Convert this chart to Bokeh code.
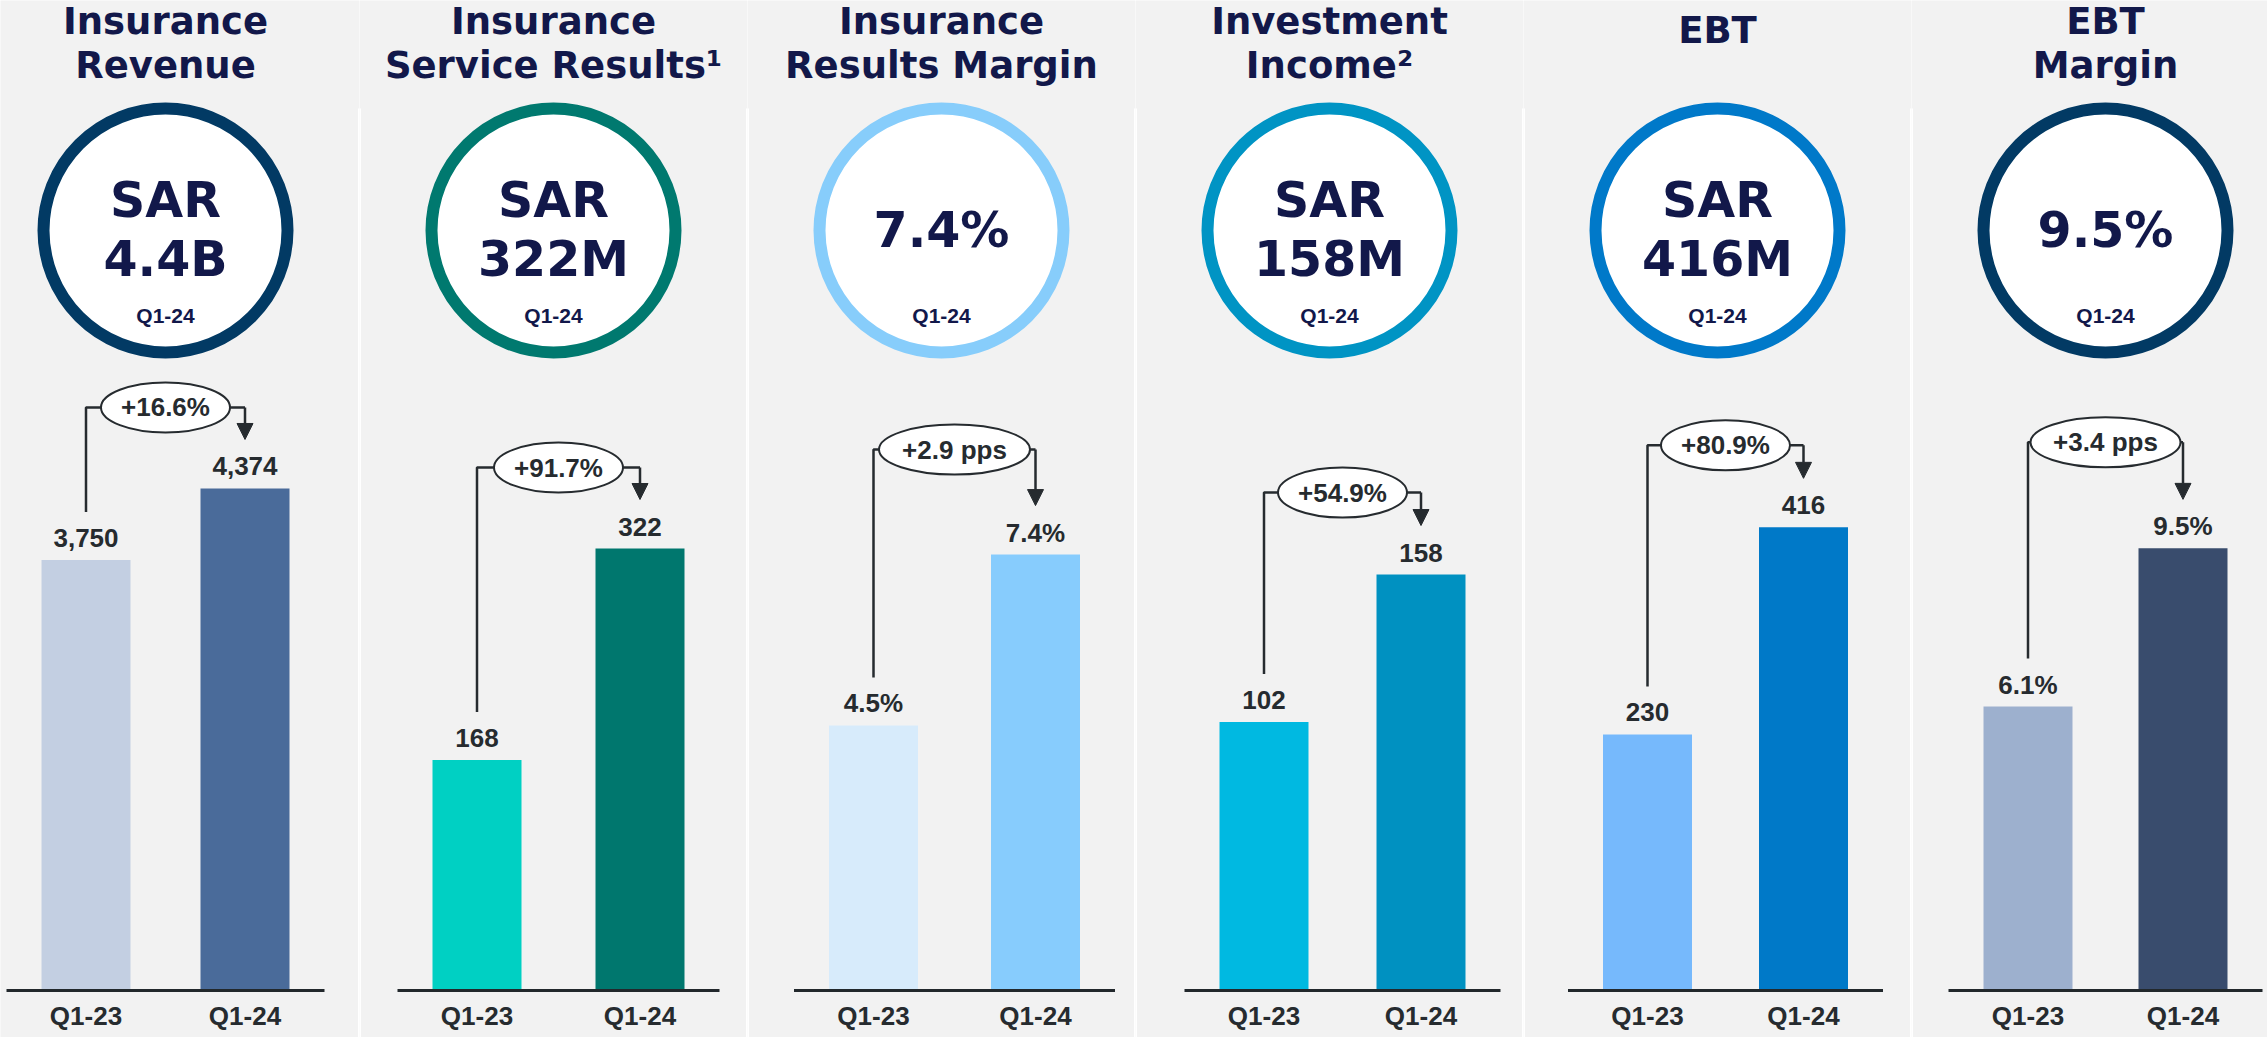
from bokeh.plotting import figure
from bokeh.layouts import row
from bokeh.models import Range1d, FixedTicker, Arrow, NormalHead, ColumnDataSource
from bokeh.core.properties import value
from bokeh.embed import file_html
from bokeh.resources import INLINE

# ---------------- data ----------------
categories = ["Q1-23", "Q1-24"]
titles = [["Insurance", "Revenue"],
          ["Insurance", "Service Results\u00b9"],
          ["Insurance", "Results Margin"],
          ["Investment", "Income\u00b2"],
          ["EBT"],
          ["EBT", "Margin"]]
headline = [["SAR", "4.4B"], ["SAR", "322M"], ["7.4%"], ["SAR", "158M"], ["SAR", "416M"], ["9.5%"]]
headline_period = "Q1-24"
q1_23 = [3750, 168, 4.5, 102, 230, 6.1]
q1_24 = [4374, 322, 7.4, 158, 416, 9.5]
is_pct = [False, False, True, False, False, True]
changes = ["+16.6%", "+91.7%", "+2.9 pps", "+54.9%", "+80.9%", "+3.4 pps"]

# ---------------- style / layout ----------------
ring_colors = ["#023a64", "#00796f", "#87cdfb", "#0094c4", "#0079c9", "#023a64"]
bar_colors_23 = ["#c3cfe2", "#00d0c3", "#d7ebfb", "#00b9e1", "#76b9fc", "#9db0ce"]
bar_colors_24 = ["#4a6b9a", "#00776e", "#87ccfd", "#0091c1", "#0079c8", "#394c6d"]
y_max = [8556, 715.4, 16.67, 373, 882, 21.1]      # value shown 8px below the top edge
bar_mid_off = [0, 5, 13, 13, 8, 0]                # px shift of the bar pair from panel centre
bar_gap = [159, 163, 162, 157, 156, 155]          # px between the two bar centres
bubble_rise = [81, 81, 105, 82, 82, 106]          # px of bubble above the Q1-24 bar top
bubble_w = [129, 129, 151, 129, 129, 150]

NAVY = "#12184a"
DARK = "#262b2f"
BG = "#f2f2f2"
TOTAL_W, TOTAL_H = 2267, 1037
PANEL_W = 388
CENTER0 = 165
BASE_Y = 990
BAR_W_PX = 89

figs = []
for k in range(6):
    xl = 0 if k == 0 else CENTER0 + PANEL_W * k - PANEL_W // 2
    xr = CENTER0 + PANEL_W * k + PANEL_W // 2 if k < 5 else TOTAL_W
    w = xr - xl
    ck = CENTER0 + PANEL_W * k
    mid = ck + bar_mid_off[k]
    sp = bar_gap[k]
    kpx = (BASE_Y - 8) / y_max[k]

    xs = (xl - mid) / sp + 0.5
    xe = (xr - mid) / sp + 0.5
    p = figure(frame_width=w, frame_height=TOTAL_H,
               x_range=Range1d(xs, xe),
               y_range=Range1d(-(TOTAL_H - BASE_Y) / kpx, BASE_Y / kpx),
               y_axis_location=None, output_backend="svg", toolbar_location=None,
               min_border=0)
    p.extra_x_ranges = {"px": Range1d(xl, xr)}
    p.extra_y_ranges = {"px": Range1d(TOTAL_H, 0)}
    p.background_fill_color = BG
    p.border_fill_color = BG
    p.outline_line_color = None
    p.grid.visible = False

    ax = p.xaxis[0]
    ax.fixed_location = 0
    ax.ticker = FixedTicker(ticks=[0, 1])
    ax.major_label_overrides = {i: c for i, c in enumerate(categories)}
    ax.axis_line_color = None
    ax.major_tick_line_color = None
    ax.minor_tick_line_color = None
    ax.major_label_standoff = 4
    ax.major_label_text_font = "Liberation Sans"
    ax.major_label_text_font_style = "bold"
    ax.major_label_text_font_size = "26px"
    ax.major_label_text_color = DARK

    # dividers
    pk = dict(x_range_name="px", y_range_name="px")
    edges = []
    if k > 0:
        edges.append(xl)
    if k < 5:
        edges.append(xr)
    if edges:
        p.segment(x0=edges, x1=edges, y0=[108] * len(edges), y1=[TOTAL_H + 5] * len(edges),
                  line_color="white", line_width=3, level="underlay", **pk)

    # titles (y = vertical centre of the capitals)
    tl = titles[k]
    ys = [21, 65] if len(tl) == 2 else [30]
    p.text(x=[ck] * len(tl), y=ys, text=tl, text_align="center", text_baseline="middle",
           text_font=value("DejaVu Sans"), text_font_style="bold", text_font_size="37px",
           text_color=NAVY, **pk)

    # headline circle
    p.circle(x=[ck], y=[230], radius=122, radius_units="screen", fill_color="white",
             line_color=ring_colors[k], line_width=12, **pk)
    hl = headline[k]
    hy = [200, 259] if len(hl) == 2 else [230]
    p.text(x=[ck] * len(hl), y=hy, text=hl, text_align="center", text_baseline="middle",
           text_font=value("DejaVu Sans"), text_font_style="bold", text_font_size="49px",
           text_color=NAVY, **pk)
    p.text(x=[ck], y=[315], text=[headline_period], text_align="center",
           text_baseline="middle", text_font=value("Liberation Sans"),
           text_font_style="bold", text_font_size="21px", text_color=NAVY, **pk)

    # bars
    v0, v1 = q1_23[k], q1_24[k]
    fmt = (lambda v: f"{v:.1f}%") if is_pct[k] else (lambda v: f"{v:,.0f}")
    src = ColumnDataSource(dict(x=list(range(len(categories))), top=[v0, v1],
                                color=[bar_colors_23[k], bar_colors_24[k]],
                                label=[fmt(v0), fmt(v1)]))
    bw = BAR_W_PX / sp
    p.vbar(x="x", top="top", bottom=0, width=bw, fill_color="color", line_color=None, source=src)
    p.text(x="x", y="top", text="label", y_offset=-22, text_align="center",
           text_baseline="middle", text_font=value("Liberation Sans"),
           text_font_style="bold", text_font_size="26px", text_color=DARK, source=src)
    ext = 35 / sp
    p.segment(x0=[-bw / 2 - ext], x1=[1 + bw / 2 + ext], y0=[0], y1=[0],
              line_color="#22282c", line_width=3)

    # change bracket
    yb = v1 + bubble_rise[k] / kpx
    p.line(x=[0, 0, 1], y=[v0 + 48 / kpx, yb, yb], line_color=DARK, line_width=2.5)
    p.add_layout(Arrow(x_start=1, y_start=yb, x_end=1, y_end=v1 + 49 / kpx,
                       line_color=DARK, line_width=2.5,
                       end=NormalHead(size=16, fill_color=DARK, line_color=DARK, line_width=1)))
    p.ellipse(x=[0.5], y=[yb], width=bubble_w[k], height=50, width_units="screen",
              height_units="screen", fill_color="white", line_color=DARK, line_width=2)
    p.text(x=[0.5], y=[yb], text=[changes[k]], text_align="center", text_baseline="middle",
           text_font=value("Liberation Sans"), text_font_style="bold", text_font_size="26px",
           text_color=DARK)
    figs.append(p)

layout = row(*figs, spacing=0)
open("out.html", "w").write(file_html(layout, INLINE))
